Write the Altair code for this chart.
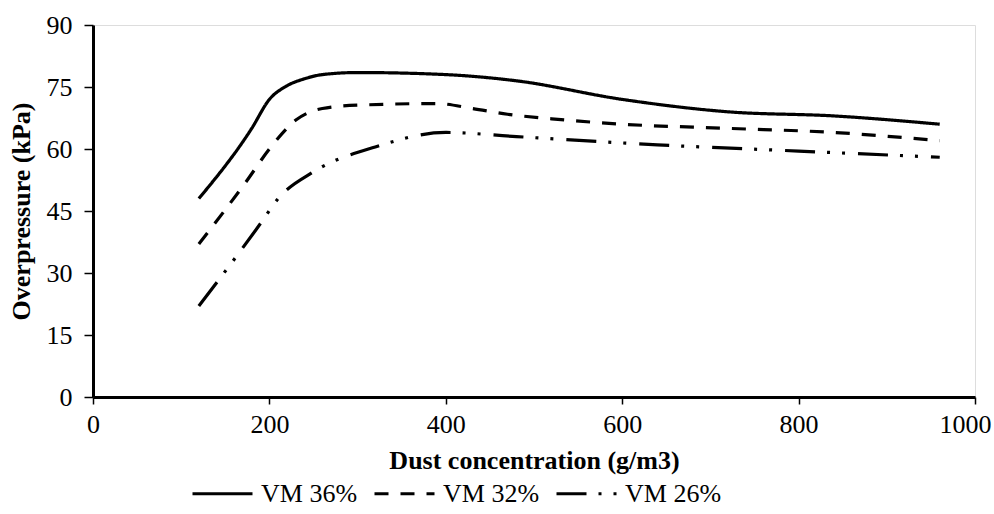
import altair as alt
import pandas as pd

series_names = ["VM 36%", "VM 32%", "VM 26%"]

vm36_x = [120, 180, 200, 220, 240, 260, 300, 400, 480, 600, 720, 840, 960]
vm36_y = [48, 65, 72, 75.3, 77, 78, 78.5, 78, 76.5, 72, 69, 68, 66]

vm32_x = [120, 175, 200, 230, 260, 300, 390, 430, 470, 520, 600, 720, 840, 960]
vm32_y = [37, 52.5, 60, 67, 69.8, 70.6, 71, 69.8, 68.4, 67.3, 66, 65, 64, 62]

vm26_x = [120, 190, 210, 250, 320, 400, 480, 640, 800, 960]
vm26_y = [22, 42, 48, 54.5, 60.5, 64, 63, 61, 59.5, 58]

x_ticks = [0, 200, 400, 600, 800, 1000]
y_ticks = [0, 15, 30, 45, 60, 75, 90]

rows = []
for name, xs, ys in zip(series_names, [vm36_x, vm32_x, vm26_x], [vm36_y, vm32_y, vm26_y]):
    for i, (a, b) in enumerate(zip(xs, ys)):
        rows.append({"series": name, "conc": a, "op": b, "order": i})
df = pd.DataFrame(rows)

FONT = "Liberation Serif"

chart = alt.Chart(df).mark_line(
    color="black", strokeWidth=3.2, interpolate="monotone", strokeCap="butt"
).encode(
    x=alt.X("conc:Q", scale=alt.Scale(domain=[0, 1000], nice=False),
            axis=alt.Axis(values=x_ticks, format="d", title="Dust concentration (g/m3)",
                          grid=False, tickSize=7, tickColor="black", tickWidth=1.5,
                          domainColor="black", domainWidth=3,
                          labelFont=FONT, labelFontSize=26, labelColor="black",
                          labelPadding=7, labelFlush=False,
                          labelOffset={"condition": {"test": "datum.value == 1000", "value": -10},
                                       "value": 0},
                          titleFont=FONT, titleFontSize=26, titleFontWeight="bold",
                          titleColor="black", titlePadding=10)),
    y=alt.Y("op:Q", scale=alt.Scale(domain=[0, 90], nice=False),
            axis=alt.Axis(values=y_ticks, title="Overpressure (kPa)",
                          grid=False, tickSize=9, tickColor="black", tickWidth=1.5,
                          domainColor="black", domainWidth=3,
                          labelFont=FONT, labelFontSize=26, labelColor="black",
                          labelPadding=12,
                          titleFont=FONT, titleFontSize=26, titleFontWeight="bold",
                          titleColor="black", titlePadding=12)),
    strokeDash=alt.StrokeDash("series:N",
        scale=alt.Scale(domain=series_names,
                        range=[[1, 0], [14, 12], [30, 12, 3, 12, 3, 13]]),
        legend=alt.Legend(title=None, orient="none", legendX=98, legendY=437,
                          direction="horizontal",
                          symbolType="stroke", symbolSize=3600, symbolStrokeWidth=3,
                          symbolStrokeColor="black",
                          labelFont=FONT, labelFontSize=26, labelColor="black",
                          labelOffset=7, columnPadding=10)),
    detail="series:N",
    order="order:Q",
).properties(
    width=882, height=372,
    padding={"left": 93, "top": 25, "right": 19, "bottom": 117},
    autosize=alt.AutoSizeParams(type="none"),
).configure_view(
    stroke="#555", strokeWidth=2
).configure(background="white")

chart.save("out.html", embed_options={"renderer": "svg", "actions": False})
